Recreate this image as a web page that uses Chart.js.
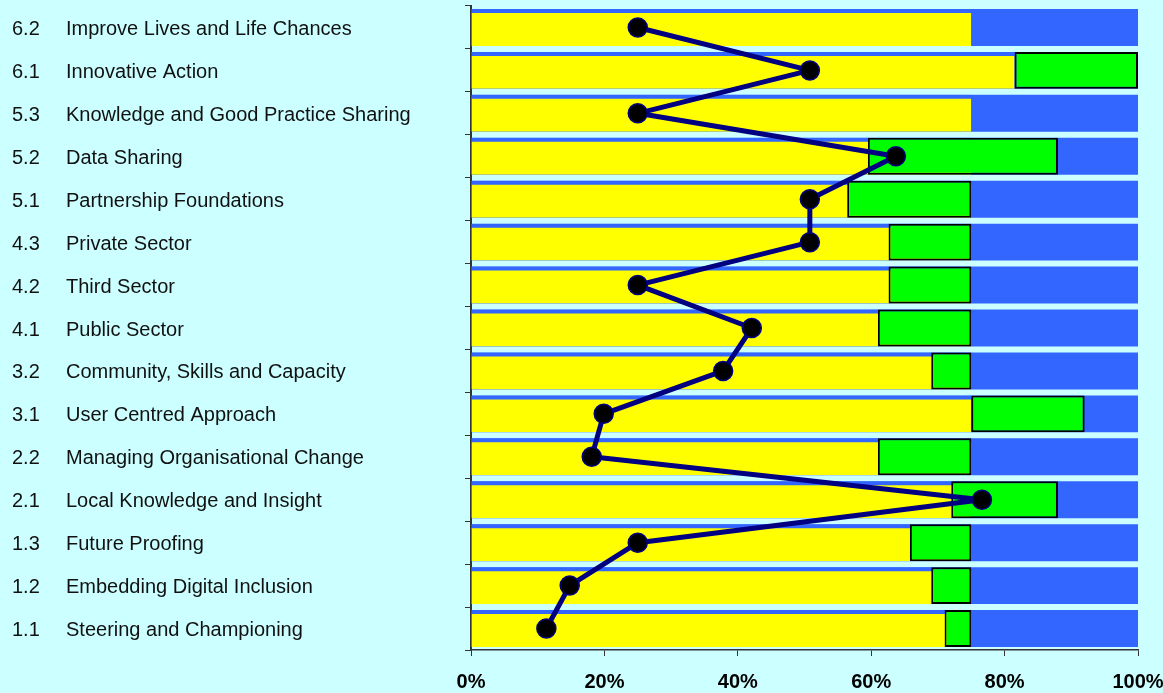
<!DOCTYPE html>
<html>
<head>
<meta charset="utf-8">
<script src="https://cdn.jsdelivr.net/npm/chart.js@4"></script>
<style>
    body { margin: 0; background: #ccffff; }
    canvas { display: block; }
</style>
</head>
<body>
<canvas id="chart" width="1163" height="693"></canvas>
<script>
// Categories, top to bottom
const codes = ['6.2', '6.1', '5.3', '5.2', '5.1', '4.3', '4.2', '4.1', '3.2', '3.1', '2.2', '2.1', '1.3', '1.2', '1.1'];
const names = [
    'Improve Lives and Life Chances',
    'Innovative Action',
    'Knowledge and Good Practice Sharing',
    'Data Sharing',
    'Partnership Foundations',
    'Private Sector',
    'Third Sector',
    'Public Sector',
    'Community, Skills and Capacity',
    'User Centred Approach',
    'Managing Organisational Change',
    'Local Knowledge and Insight',
    'Future Proofing',
    'Embedding Digital Inclusion',
    'Steering and Championing'
];

// Series values (%)
const blueEnd = [100, 100, 100, 100, 100, 100, 100, 100, 100, 100, 100, 100, 100, 100, 100];
const yellowEnd = [75, 81.5, 75, 75, 75, 75, 75, 75, 75, 75, 75, 75, 75, 75, 75];
const greenStart = [null, 81.5, null, 59.5, 56.4, 62.6, 62.6, 61, 69, 75, 61, 72, 65.8, 69, 71];
const greenEnd = [null, 100, null, 88, 75, 75, 75, 75, 75, 92, 75, 88, 75, 75, 75];
const scores = [25, 50.8, 25, 63.7, 50.8, 50.8, 25, 42.1, 37.8, 19.9, 18.1, 76.6, 25, 14.8, 11.3];

// X axis ticks
const xTicks = [0, 20, 40, 60, 80, 100];

const FONT = 'Liberation Sans, Arial, sans-serif';
const LABEL_SHIFT = 2;

// Draw the section numbers in their own column left of the names
const codeColumn = {
    id: 'codeColumn',
    afterDraw(chart) {
        const ctx = chart.ctx;
        const yScale = chart.scales.y;
        ctx.save();
        ctx.font = '20px ' + FONT;
        ctx.fillStyle = '#111';
        ctx.textAlign = 'left';
        ctx.textBaseline = 'middle';
        codes.forEach((code, i) => {
            ctx.fillText(code, 12, yScale.getPixelForValue(i) + LABEL_SHIFT);
        });
        ctx.restore();
    }
};

const ctx = document.getElementById('chart').getContext('2d');
new Chart(ctx, {
    type: 'bar',
    data: {
        labels: names,
        datasets: [
            {
                type: 'line',
                indexAxis: 'y',
                data: scores,
                borderColor: '#000080',
                borderWidth: 5,
                borderJoinStyle: 'round',
                pointRadius: 9.5,
                pointBackgroundColor: '#000000',
                pointBorderColor: '#000080',
                pointBorderWidth: 1.5,
                tension: 0,
                clip: false,
                order: 0
            },
            {
                data: greenStart.map((s, i) => s === null ? null : [s, greenEnd[i]]),
                backgroundColor: '#00ff00',
                borderColor: '#000000',
                borderWidth: 2,
                borderSkipped: false,
                grouped: false,
                order: 1
            },
            {
                data: yellowEnd.map(v => [0, v]),
                backgroundColor: '#ffff00',
                borderColor: '#3366ff',
                borderWidth: { top: 4, right: 0, bottom: 0, left: 0 },
                borderSkipped: false,
                grouped: false,
                order: 2
            },
            {
                data: blueEnd.map(v => [0, v]),
                backgroundColor: '#3366ff',
                borderWidth: 0,
                grouped: false,
                order: 3
            }
        ]
    },
    options: {
        indexAxis: 'y',
        responsive: false,
        animation: false,
        barPercentage: 0.86,
        categoryPercentage: 1,
        layout: {
            autoPadding: false,
            padding: { left: 66, top: 6, right: 0, bottom: 0 }
        },
        plugins: {
            legend: { display: false },
            tooltip: { enabled: false }
        },
        scales: {
            x: {
                type: 'linear',
                min: 0,
                max: 100,
                afterBuildTicks: (scale) => {
                    scale.ticks = xTicks.map(v => ({ value: v }));
                },
                afterFit: (scale) => {
                    scale.height = 43;
                    scale.paddingRight = 25;
                },
                ticks: {
                    callback: (v) => v + '%',
                    font: { family: FONT, size: 20, weight: 'bold' },
                    color: '#000',
                    padding: 14,
                    maxRotation: 0
                },
                grid: {
                    drawOnChartArea: false,
                    drawTicks: true,
                    tickLength: 6,
                    color: '#333'
                },
                border: { color: '#333', width: 1.5 }
            },
            y: {
                afterFit: (scale) => {
                    scale.width = 405;
                    scale.paddingTop = 0;
                    scale.paddingBottom = 0;
                },
                ticks: {
                    crossAlign: 'far',
                    labelOffset: LABEL_SHIFT,
                    font: { family: FONT, size: 20 },
                    color: '#111'
                },
                grid: {
                    offset: true,
                    drawOnChartArea: false,
                    drawTicks: true,
                    tickLength: 6,
                    color: '#333'
                },
                border: { color: '#333', width: 2 }
            }
        }
    },
    plugins: [codeColumn]
});
</script>
</body>
</html>
